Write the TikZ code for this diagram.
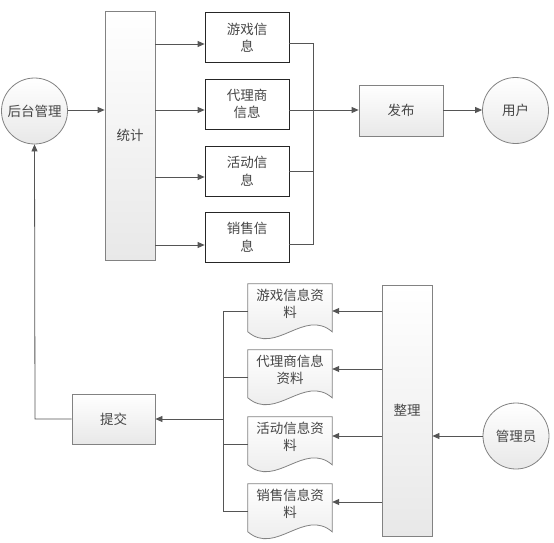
\documentclass[tikz,border=0pt]{standalone}
\usepackage{fontspec}
\setmainfont{Noto Sans CJK SC}
\usetikzlibrary{arrows.meta,calc}
\definecolor{txt}{RGB}{70,70,70}
\definecolor{ln}{RGB}{85,85,85}
\definecolor{bd}{RGB}{130,130,130}
\definecolor{fillb}{RGB}{232,232,232}
\tikzset{
  base/.style={font=\fontsize{13.5}{17.5}\selectfont, text=txt, align=center, inner sep=0pt},
  grbox/.style={base, draw=bd, line width=0.8pt, top color=white, bottom color=fillb, rectangle},
  whbox/.style={base, draw=black!85, line width=0.8pt, fill=white, rectangle, minimum width=84pt, minimum height=50pt},
  circ/.style={base, circle, draw=bd, line width=0.8pt, top color=white, bottom color=fillb, minimum size=66pt},
  doctext/.style={base, minimum width=84pt, minimum height=40pt},
  docshape/.style={draw=bd, line width=0.8pt, top color=white, bottom color=fillb},
  conn/.style={draw=ln, line width=0.8pt},
  arr/.style={conn, -{Triangle[length=7pt,width=6pt]}},
}
\newcommand{\docwave}[1]{%
  \path[docshape] (#1.north west) -- (#1.north east) -- ($(#1.north east)+(0,48)$)
    .. controls ($(#1.north east)+(-28,24)$) and ($(#1.north west)+(28,72)$) .. ($(#1.north west)+(0,48)$) -- cycle;}
\begin{document}
\begin{tikzpicture}[x=1pt,y=-1pt]
\useasboundingbox (0,0) rectangle (554,543);
% top part
\node[circ] (hou) at (34.5,111) {后台管理};
\node[grbox, minimum width=50pt, minimum height=249pt] (tongji) at (130,135.5) {统计};
\node[whbox] (b1) at (247,37.5) {游戏信\\息};
\node[whbox] (b2) at (247,104) {代理商\\信息};
\node[whbox] (b3) at (247,171) {活动信\\息};
\node[whbox] (b4) at (247,237) {销售信\\息};
\node[grbox, minimum width=84pt, minimum height=51pt] (fabu) at (401,110.5) {发布};
\node[circ] (yonghu) at (515.5,110.5) {用户};
\coordinate (rbusT) at (313,43);
\coordinate (rbusB) at (313,244);

\draw[arr] (hou.east |- 0,110) -- (tongji.west |- 0,110);
\draw[arr] (tongji.east |- 0,44) -- (b1.west |- 0,44);
\draw[arr] (tongji.east |- 0,110) -- (b2.west |- 0,110);
\draw[arr] (tongji.east |- 0,177) -- (b3.west |- 0,177);
\draw[arr] (tongji.east |- 0,245) -- (b4.west |- 0,245);
\draw[conn] (b1.east |- rbusT) -- (rbusT) -- (rbusB) -- (b4.east |- rbusB);
\draw[conn] (b3.east |- 0,171) -- (313,171);
\draw[arr] (b2.east |- 0,110) -- (fabu.west |- 0,110);
\draw[arr] (fabu.east |- 0,110) -- (yonghu.west |- 0,110);

% bottom part
\node[grbox, minimum width=83pt, minimum height=50pt] (tijiao) at (113.5,419) {提交};
\node[grbox, minimum width=50pt, minimum height=251pt] (zhengli) at (407,410.5) {整理};
\node[circ] (guanli) at (516,436) {管理员};

\node[doctext] (d1) at (290,304) {};
\node[doctext] (d2) at (290,370) {};
\node[doctext] (d3) at (290,437) {};
\node[doctext] (d4) at (290,504) {};
\docwave{d1}\docwave{d2}\docwave{d3}\docwave{d4}
\node[base] at (d1.center) {游戏信息资\\料};
\node[base] at (d2.center) {代理商信息\\资料};
\node[base] at (d3.center) {活动信息资\\料};
\node[base] at (d4.center) {销售信息资\\料};

\coordinate (lbusT) at (223,311);
\coordinate (lbusB) at (223,511);
\draw[conn] (d1.west |- lbusT) -- (lbusT) -- (lbusB) -- (d4.west |- lbusB);
\draw[conn] (d2.west |- 0,377) -- (223,377);
\draw[conn] (d3.west |- 0,444) -- (223,444);
\draw[arr] (223,419) -- (tijiao.east |- 0,419);
\coordinate (lc) at (35,419);
\draw[arr] (tijiao.west |- lc) -- (lc) -- (hou.south);

\draw[arr] (zhengli.west |- 0,311) -- (d1.east |- 0,311);
\draw[arr] (zhengli.west |- 0,369) -- (d2.east |- 0,369);
\draw[arr] (zhengli.west |- 0,436) -- (d3.east |- 0,436);
\draw[arr] (zhengli.west |- 0,502) -- (d4.east |- 0,502);
\draw[arr] (guanli.west) -- (zhengli.east |- guanli.west);
\end{tikzpicture}
\end{document}
